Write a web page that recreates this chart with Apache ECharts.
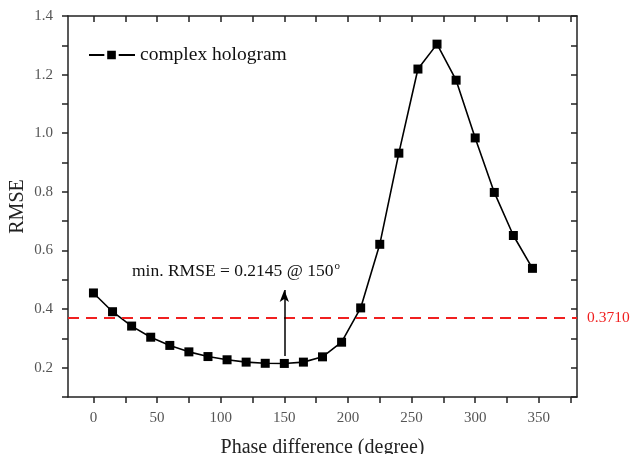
<!DOCTYPE html>
<html>
<head>
<meta charset="utf-8">
<script src="https://cdn.jsdelivr.net/npm/echarts@6/dist/echarts.min.js"></script>
<style>
  html, body { margin: 0; padding: 0; background: #fff; }
  #chart { width: 636px; height: 454px; }
</style>
</head>
<body>
<div id="chart"></div>
<script>
// Phase difference (degrees) and the RMSE measured at each step
var phases = [0, 15, 30, 45, 60, 75, 90, 105, 120, 135, 150, 165, 180, 195, 210, 225, 240, 255, 270, 285, 300, 315, 330, 345];
var rmse = [0.455, 0.391, 0.342, 0.304, 0.276, 0.254, 0.238, 0.227, 0.219, 0.215, 0.2145, 0.219, 0.237, 0.287, 0.404, 0.621, 0.932, 1.219, 1.304, 1.181, 0.984, 0.798, 0.651, 0.539];

// Axis ticks and labels
var xTicks = [0, 25, 50, 75, 100, 125, 150, 175, 200, 225, 250, 275, 300, 325, 350, 375];
var xLabels = [0, 50, 100, 150, 200, 250, 300, 350];
var yTicks = [0.1, 0.2, 0.3, 0.4, 0.5, 0.6, 0.7, 0.8, 0.9, 1.0, 1.1, 1.2, 1.3, 1.4];
var yLabels = [0.2, 0.4, 0.6, 0.8, 1.0, 1.2, 1.4];

// Reference threshold and the minimum marker
var threshold = 0.3710;
var minPhase = 150;
var minValue = 0.2145;
var arrowFrom = 0.24;
var arrowTo = 0.465;
var notePos = [112, 0.53];

var serif = '"Liberation Serif", "Times New Roman", serif';
var axisColor = '#222';

var chart = echarts.init(document.getElementById('chart'), null, { renderer: 'canvas' });

var baseX = {
  type: 'value', min: -20, max: 380,
  axisLine: { show: true, onZero: false, lineStyle: { color: axisColor, width: 1.5 } },
  splitLine: { show: false }
};
var baseY = {
  type: 'value', min: 0.1, max: 1.4,
  axisLine: { show: true, onZero: false, lineStyle: { color: axisColor, width: 1.5 } },
  splitLine: { show: false }
};

// legend glyph: line – square – line with small gaps
var legendIcon = 'path://M0,4h16v2h-16z M19,0.5h9v9h-9z M31,4h17v2h-17z';

var option = {
  backgroundColor: '#ffffff',
  animation: false,
  grid: { left: 68, top: 16, right: 59, bottom: 57, containLabel: false, outerBoundsMode: 'none' },
  legend: {
    left: 89, top: 45,
    padding: 0,
    itemWidth: 46, itemHeight: 10,
    itemGap: 4,
    icon: legendIcon,
    textStyle: { fontFamily: serif, fontSize: 19.5, color: '#111' },
    data: ['complex hologram']
  },
  xAxis: [
    Object.assign({}, baseX, {
      position: 'bottom',
      name: 'Phase difference (degree)',
      nameLocation: 'middle', nameGap: 41,
      nameMoveOverlap: false,
      nameTextStyle: { fontFamily: serif, fontSize: 20, color: '#222' },
      axisTick: { show: true, inside: false, length: 6, customValues: xTicks, lineStyle: { color: axisColor, width: 1.5 } },
      axisLabel: { show: true, margin: 14, customValues: xLabels, fontFamily: serif, fontSize: 15, color: '#555' }
    }),
    Object.assign({}, baseX, {
      position: 'top',
      axisTick: { show: true, inside: true, length: 6, customValues: xTicks, lineStyle: { color: axisColor, width: 1.5 } },
      axisLabel: { show: false }
    })
  ],
  yAxis: [
    Object.assign({}, baseY, {
      position: 'left',
      name: 'RMSE',
      nameLocation: 'middle', nameGap: 40,
      nameMoveOverlap: false,
      nameTextStyle: { fontFamily: serif, fontSize: 20, color: '#222' },
      axisTick: { show: true, inside: false, length: 6, customValues: yTicks, lineStyle: { color: axisColor, width: 1.5 } },
      axisLabel: {
        show: true, margin: 15, customValues: yLabels,
        fontFamily: serif, fontSize: 15, color: '#555',
        formatter: function (v) { return v.toFixed(1); }
      }
    }),
    Object.assign({}, baseY, {
      position: 'right',
      axisTick: { show: true, inside: true, length: 6, customValues: yTicks, lineStyle: { color: axisColor, width: 1.5 } },
      axisLabel: { show: false }
    })
  ],
  series: [
    {
      name: 'complex hologram',
      type: 'line',
      xAxisIndex: 0, yAxisIndex: 0,
      data: phases.map(function (p, i) { return [p, rmse[i]]; }),
      symbol: 'rect',
      symbolSize: 9,
      showAllSymbol: true,
      lineStyle: { color: '#000', width: 1.6 },
      itemStyle: { color: '#000', borderColor: '#000', borderWidth: 0 },
      z: 3,
      markLine: {
        silent: true,
        symbol: ['none', 'none'],
        animation: false,
        data: [
          {
            yAxis: threshold,
            lineStyle: { color: '#f02020', width: 2, type: [11, 7] },
            label: {
              show: true, position: 'end', distance: 10,
              formatter: threshold.toFixed(4),
              fontFamily: serif, fontSize: 15.5, color: '#f02020'
            }
          },
          [
            { coord: [minPhase, arrowFrom], symbol: 'none' },
            {
              coord: [minPhase, arrowTo], symbol: 'arrow', symbolSize: [7, 12],
              lineStyle: { color: '#000', width: 1.5, type: 'solid' },
              label: { show: false }
            }
          ]
        ]
      },
      markPoint: {
        silent: true,
        symbol: 'circle',
        symbolSize: 1,
        itemStyle: { color: 'rgba(0,0,0,0)' },
        data: [
          {
            coord: notePos,
            label: {
              show: true,
              position: 'inside',
              formatter: '{t|min. RMSE = ' + minValue.toFixed(4) + ' @ ' + minPhase + '}{s|o}',
              rich: {
                t: { fontFamily: serif, fontSize: 17.5, color: '#111' },
                s: { fontFamily: serif, fontSize: 11, color: '#111', verticalAlign: 'top', padding: [0, 0, 9, 1] }
              }
            }
          }
        ]
      }
    }
  ]
};

chart.setOption(option);
</script>
</body>
</html>
